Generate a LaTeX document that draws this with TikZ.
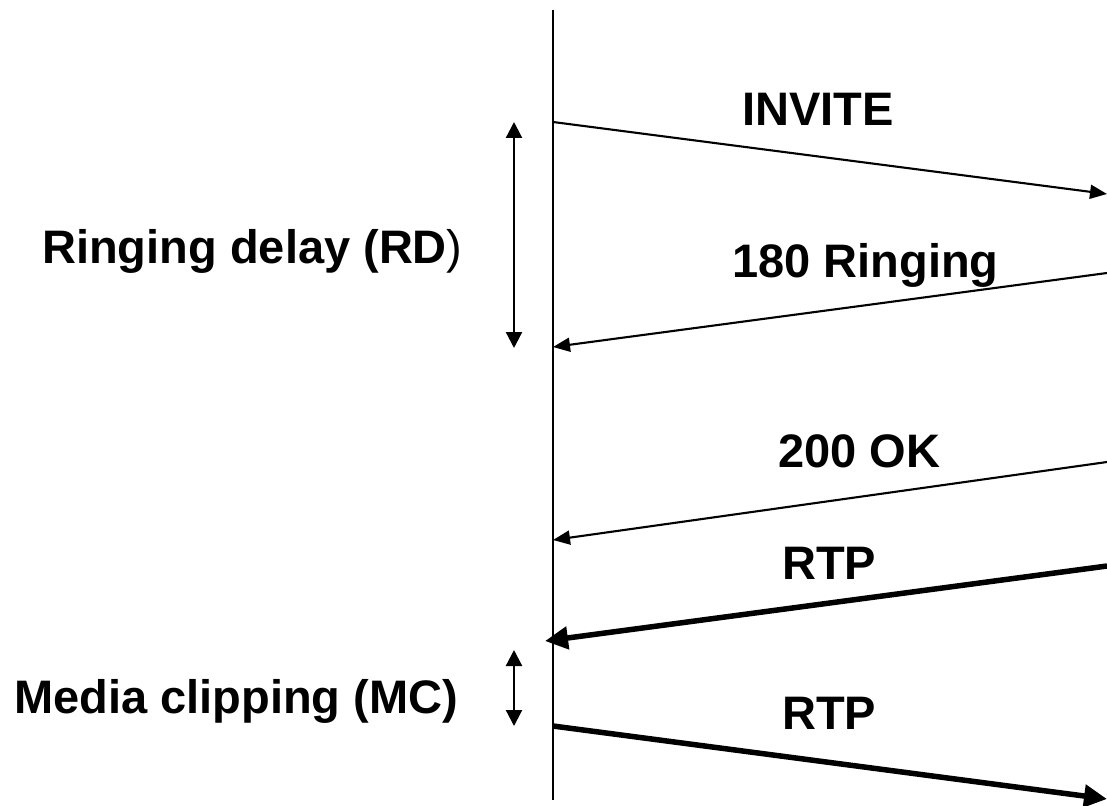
\documentclass[tikz,border=0pt]{standalone}
\usepackage{fontspec}
\setmainfont{Liberation Sans}
\usetikzlibrary{arrows.meta}
\begin{document}
\begin{tikzpicture}[x=1pt,y=-1pt,
  lbl/.style={anchor=base west,inner sep=0pt,font=\fontsize{47}{56}\selectfont\bfseries},
  msg/.style={line width=2.1pt,-{Triangle[length=17pt,width=14pt]}},
  media/.style={line width=5.5pt,-{Triangle[length=23pt,width=22pt]}},
  span/.style={line width=2.3pt,{Triangle[length=16pt,width=16pt]}-{Triangle[length=16pt,width=16pt]}}]
\useasboundingbox (0,0) rectangle (1107,805);

% lifeline
\coordinate (top) at (553,10);
\coordinate (bot) at (553,800);
\draw[line width=2pt] (top) -- (bot);

% message end points
\coordinate (inviteS) at (553,122);
\coordinate (inviteE) at (1107,194);
\coordinate (ringS) at (1107,273);
\coordinate (ringE) at (553,347);
\coordinate (okS) at (1107,462);
\coordinate (okE) at (553,540);
\coordinate (rtpaS) at (1107,566);
\coordinate (rtpaE) at (545,641);
\coordinate (rtpbS) at (553,726);
\coordinate (rtpbE) at (1107,799);

\draw[msg] (inviteS) -- (inviteE);
\draw[msg] (ringS) -- (ringE);
\draw[msg] (okS) -- (okE);
\draw[media] (rtpaS) -- (rtpaE);
\draw[media] (rtpbS) -- (rtpbE);

% interval markers
\coordinate (rdT) at (514,122);
\coordinate (rdB) at (514,348);
\coordinate (mcT) at (514,650);
\coordinate (mcB) at (514,726);
\draw[span] (rdT) -- (rdB);
\draw[span] (mcT) -- (mcB);

% labels
\node[lbl] (tInvite) at (742,126) {INVITE};
\node[lbl] (tRing) at (732,277) {180 Ringing};
\node[lbl] (tOk) at (778,467) {200 OK};
\node[lbl] (tRtpA) at (782,579) {RTP};
\node[lbl] (tRtpB) at (782,729) {RTP};
\node[lbl] (tRD) at (42,263) {Ringing delay (RD{\mdseries)}};
\node[lbl] (tMC) at (14,713) {Media clipping (MC)};
\end{tikzpicture}
\end{document}
